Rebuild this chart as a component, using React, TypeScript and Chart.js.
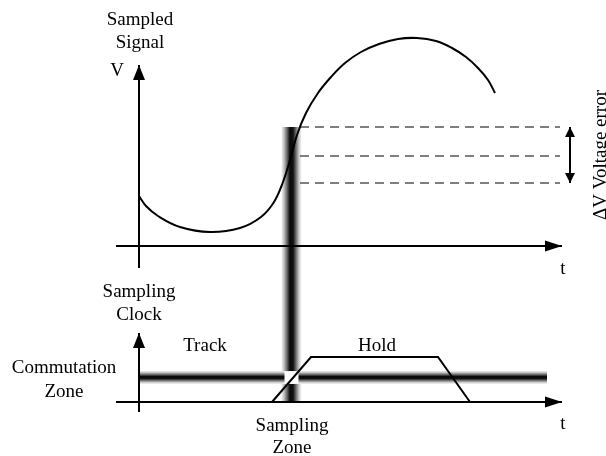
import React, { useEffect, useRef } from "react";
import { Chart, registerables } from "chart.js";

Chart.register(...registerables);

// ---- Diagram data (diagram coordinate space: x 0..606, y 0..456 downwards) ----
const signalX = [139, 146, 158, 180, 210, 240, 261, 274, 283, 290, 297, 306, 318, 331, 345, 361, 379, 398, 417, 436, 452, 466, 478, 488, 495];
const signalY = [196, 206, 216, 227, 232, 228, 217, 202, 182, 160, 135, 113, 93, 77, 63, 52, 44, 39, 38, 41, 48, 57, 68, 80, 93];

const clockX = [272, 311, 438, 470];
const clockY = [402, 357, 357, 402];

const upperAxisX = [116, 562];
const upperAxisLevel = 246;
const upperVAxisY = [268, 65];
const lowerAxisX = [116, 562];
const lowerAxisLevel = 402;
const lowerVAxisY = [412, 333];
const vAxisPos = 139;

const sampleInstant = 291.5;
const sampleBandY = [127, 402];
const commutationLevel = 377.5;
const commutationBandX = [140, 547];

const errorLevels = [127, 156, 183];
const errorDashX = [300, 560];
const errorArrowX = 570;

type Label = { text: string; x: number; y: number; rotate?: boolean };
const labels: Label[] = [
  { text: "Sampled", x: 140, y: 25 },
  { text: "Signal", x: 140, y: 48 },
  { text: "V", x: 117, y: 76 },
  { text: "t", x: 563, y: 274 },
  { text: "Sampling", x: 139, y: 297 },
  { text: "Clock", x: 139, y: 320 },
  { text: "Track", x: 205, y: 351 },
  { text: "Hold", x: 377, y: 351 },
  { text: "Commutation", x: 64, y: 373 },
  { text: "Zone", x: 64, y: 397 },
  { text: "Sampling", x: 292, y: 431 },
  { text: "Zone", x: 292, y: 453 },
  { text: "t", x: 563, y: 429 },
  { text: "\u0394V Voltage error", x: 606, y: 155, rotate: true },
];

const FONT = '19px "Liberation Serif", "Times New Roman", serif';

const pts = (xs: number[], ys: number[]) => xs.map((x, i) => ({ x, y: ys[i] }));

const bandGradient = (vertical: boolean, center: number, half: number) => (ctx: any) => {
  const chart = ctx.chart;
  const c = chart && (chart.ctx as CanvasRenderingContext2D);
  const sc = chart && (vertical ? chart.scales.x : chart.scales.y);
  if (!c || !sc) return "#333";
  const p = sc.getPixelForValue(center);
  if (!Number.isFinite(p)) return "#333";
  const g = vertical
    ? c.createLinearGradient(p - half, 0, p + half, 0)
    : c.createLinearGradient(0, p - half, 0, p + half);
  g.addColorStop(0, "#f2f2f2");
  g.addColorStop(0.12, "#c4c4c4");
  g.addColorStop(0.3, "#5a5a5a");
  g.addColorStop(0.42, "#0a0a0a");
  g.addColorStop(0.58, "#111");
  g.addColorStop(0.72, "#6a6a6a");
  g.addColorStop(0.88, "#cdcdcd");
  g.addColorStop(1, "#f6f6f6");
  return g;
};

const arrowPlugin = {
  id: "arrowHeads",
  afterDatasetsDraw(chart: any) {
    const c = chart.ctx as CanvasRenderingContext2D;
    chart.data.datasets.forEach((ds: any, i: number) => {
      if (!ds.arrow) return;
      const meta = chart.getDatasetMeta(i);
      const els = meta.data;
      if (els.length < 2) return;
      const draw = (tip: any, from: any) => {
        const dx = tip.x - from.x;
        const dy = tip.y - from.y;
        const d = Math.hypot(dx, dy) || 1;
        const ux = dx / d, uy = dy / d;
        const { len, half } = ds.arrow;
        const bx = tip.x - ux * len, by = tip.y - uy * len;
        c.save();
        c.fillStyle = "#000";
        c.beginPath();
        c.moveTo(tip.x, tip.y);
        c.lineTo(bx - uy * half, by + ux * half);
        c.lineTo(bx + uy * half, by - ux * half);
        c.closePath();
        c.fill();
        c.restore();
      };
      const n = els.length;
      if (ds.arrow.end) draw(els[n - 1], els[n - 2]);
      if (ds.arrow.start) draw(els[0], els[1]);
    });
  },
};

const textPlugin = {
  id: "diagramText",
  afterDraw(chart: any) {
    const c = chart.ctx as CanvasRenderingContext2D;
    const xs = chart.scales.x, ys = chart.scales.y;
    c.save();
    c.font = FONT;
    c.fillStyle = "#000";
    c.textAlign = "center";
    c.textBaseline = "alphabetic";
    labels.forEach((l) => {
      const px = xs.getPixelForValue(l.x);
      const py = ys.getPixelForValue(l.y);
      if (l.rotate) {
        c.save();
        c.translate(px, py);
        c.rotate(-Math.PI / 2);
        c.fillText(l.text, 0, 0);
        c.restore();
      } else {
        c.fillText(l.text, px, py);
      }
    });
    c.restore();
  },
};

export default function App() {
  const ref = useRef<HTMLCanvasElement | null>(null);

  useEffect(() => {
    if (!ref.current) return;
    const line = (data: any[], extra: any = {}) => ({
      data,
      showLine: true,
      pointRadius: 0,
      borderColor: "#000",
      borderWidth: 2,
      fill: false,
      order: 0,
      tension: 0,
      ...extra,
    });

    const datasets: any[] = [
      line(pts(signalX, signalY), { tension: 0.4, borderJoinStyle: "round" }),
      line(pts([vAxisPos, vAxisPos], upperVAxisY), { arrow: { end: true, len: 15, half: 6 } }),
      line(pts(upperAxisX, [upperAxisLevel, upperAxisLevel]), { arrow: { end: true, len: 17, half: 5.5 } }),
      line(pts([vAxisPos, vAxisPos], lowerVAxisY), { arrow: { end: true, len: 15, half: 6 } }),
      line(pts(lowerAxisX, [lowerAxisLevel, lowerAxisLevel]), { arrow: { end: true, len: 17, half: 5.5 } }),
      line(pts(clockX, clockY)),
      ...errorLevels.map((lv) =>
        line(pts(errorDashX, [lv, lv]), { borderColor: "#555", borderWidth: 1.5, borderDash: [9, 6] })
      ),
      line(pts([errorArrowX, errorArrowX], [errorLevels[0], errorLevels[2]]), {
        arrow: { start: true, end: true, len: 10, half: 5 },
      }),
      line(pts([sampleInstant, sampleInstant], sampleBandY), {
        borderWidth: 20,
        borderCapStyle: "butt",
        borderColor: bandGradient(true, sampleInstant, 10),
        order: 10,
      }),
      line(pts(commutationBandX, [commutationLevel, commutationLevel]), {
        borderWidth: 13,
        borderCapStyle: "butt",
        borderColor: bandGradient(false, commutationLevel, 6.5),
        order: 9,
      }),
      line(pts([sampleInstant - 7, sampleInstant + 7], [commutationLevel, commutationLevel]), {
        borderWidth: 12,
        borderCapStyle: "butt",
        borderColor: "#fff",
        order: 5,
      }),
    ];

    const chart = new Chart(ref.current, {
      type: "scatter",
      data: { datasets },
      options: {
        animation: false,
        responsive: false,
        devicePixelRatio: 1,
        layout: { padding: 0 },
        scales: {
          x: { type: "linear", min: 0, max: 606, display: false },
          y: { type: "linear", min: 0, max: 456, reverse: true, display: false },
        },
        plugins: { legend: { display: false }, tooltip: { enabled: false } },
        elements: { line: { borderCapStyle: "butt" } },
      },
      plugins: [arrowPlugin, textPlugin],
    } as any);
    return () => chart.destroy();
  }, []);

  return (
    <div style={{ position: "absolute", left: 0, top: 0, width: 606, height: 456, background: "#fff" }}>
      <canvas ref={ref} width={606} height={456} style={{ display: "block" }} />
    </div>
  );
}
